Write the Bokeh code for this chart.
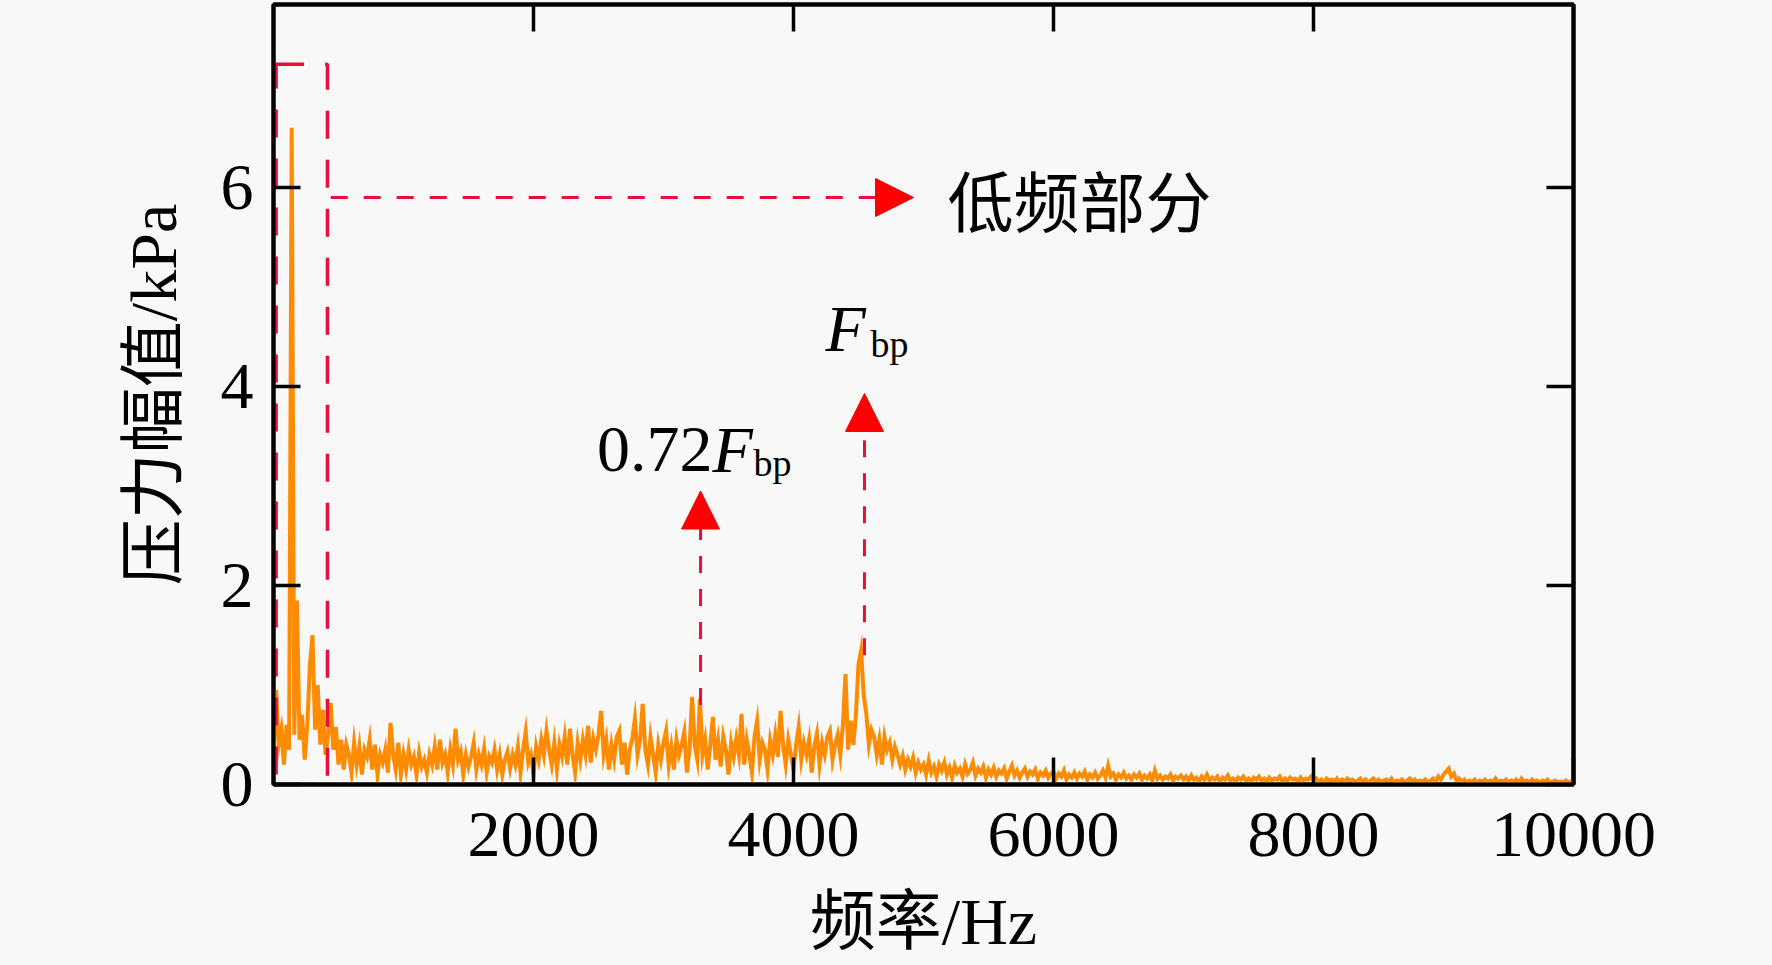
import numpy as np
from bokeh.plotting import figure
from bokeh.models import LinearAxis, FixedTicker, Arrow, NormalHead, Range1d
from bokeh.core.properties import value
from bokeh.embed import file_html
from bokeh.resources import INLINE

# ---------------- data ----------------
freq_step_hz = 20  # spectrum sampled every 20 Hz, 0 ... 10000 Hz

amp_0k = [0.30, 0.95, 0.40, 0.55, 0.20, 0.60, 0.35, 6.60, 0.50, 1.85,
          0.45, 0.70, 0.25, 0.60, 1.20, 1.50, 0.55, 1.00, 0.40, 0.75,
          0.30, 0.50, 0.82, 0.35, 0.58, 0.20, 0.45, 0.15, 0.40, 0.30,
          0.12, 0.42, 0.20, 0.38, 0.10, 0.35, 0.28, 0.45, 0.15, 0.40,
          0.10, 0.30, 0.22, 0.35, 0.12, 0.62, 0.30, 0.15, 0.42, 0.10]
amp_1k = [0.30, 0.15, 0.35, 0.20, 0.28, 0.10, 0.32, 0.18, 0.25, 0.12,
          0.30, 0.20, 0.38, 0.15, 0.45, 0.22, 0.30, 0.12, 0.35, 0.20,
          0.56, 0.25, 0.33, 0.10, 0.30, 0.18, 0.28, 0.42, 0.15, 0.30,
          0.20, 0.36, 0.12, 0.28, 0.22, 0.35, 0.15, 0.30, 0.10, 0.25,
          0.33, 0.16, 0.30, 0.20, 0.38, 0.12, 0.35, 0.53, 0.22, 0.30]
amp_2k = [0.10, 0.38, 0.25, 0.45, 0.30, 0.54, 0.35, 0.20, 0.42, 0.15,
          0.40, 0.28, 0.48, 0.20, 0.56, 0.30, 0.12, 0.42, 0.25, 0.45,
          0.30, 0.59, 0.22, 0.46, 0.35, 0.50, 0.74, 0.30, 0.45, 0.15,
          0.40, 0.25, 0.48, 0.54, 0.20, 0.42, 0.10, 0.35, 0.46, 0.66,
          0.30, 0.45, 0.81, 0.35, 0.20, 0.48, 0.30, 0.12, 0.40, 0.25]
amp_3k = [0.42, 0.54, 0.20, 0.38, 0.15, 0.45, 0.30, 0.40, 0.53, 0.12,
          0.35, 0.88, 0.40, 0.25, 0.86, 0.30, 0.45, 0.15, 0.40, 0.68,
          0.25, 0.44, 0.18, 0.48, 0.35, 0.10, 0.42, 0.28, 0.46, 0.30,
          0.71, 0.20, 0.45, 0.30, 0.12, 0.48, 0.64, 0.25, 0.42, 0.35,
          0.15, 0.44, 0.30, 0.50, 0.28, 0.74, 0.40, 0.20, 0.45, 0.30]
amp_4k = [0.15, 0.40, 0.58, 0.25, 0.42, 0.30, 0.45, 0.12, 0.38, 0.51,
          0.20, 0.42, 0.30, 0.48, 0.54, 0.25, 0.40, 0.50, 0.30, 0.60,
          1.11, 0.35, 0.64, 0.40, 0.70, 1.21, 1.35, 0.90, 0.71, 0.40,
          0.55, 0.48, 0.30, 0.45, 0.20, 0.48, 0.35, 0.42, 0.25, 0.38,
          0.30, 0.20, 0.29, 0.15, 0.25, 0.18, 0.27, 0.12, 0.22, 0.15]
amp_5k = [0.20, 0.10, 0.24, 0.12, 0.18, 0.08, 0.20, 0.14, 0.22, 0.10,
          0.17, 0.07, 0.19, 0.12, 0.16, 0.08, 0.20, 0.11, 0.15, 0.22,
          0.09, 0.16, 0.12, 0.18, 0.07, 0.15, 0.10, 0.17, 0.08, 0.14,
          0.11, 0.16, 0.06, 0.13, 0.19, 0.09, 0.14, 0.07, 0.12, 0.16,
          0.08, 0.13, 0.10, 0.15, 0.06, 0.12, 0.09, 0.14, 0.07, 0.11]
amp_6k = [0.13, 0.06, 0.11, 0.08, 0.14, 0.05, 0.10, 0.07, 0.12, 0.06,
          0.11, 0.08, 0.13, 0.05, 0.10, 0.07, 0.12, 0.06, 0.09, 0.14,
          0.07, 0.19, 0.08, 0.11, 0.05, 0.10, 0.07, 0.12, 0.06, 0.09,
          0.05, 0.10, 0.07, 0.11, 0.05, 0.09, 0.06, 0.10, 0.04, 0.14,
          0.06, 0.09, 0.05, 0.08, 0.06, 0.10, 0.04, 0.08, 0.06, 0.09]
amp_7k = [0.05, 0.08, 0.04, 0.09, 0.05, 0.07, 0.03, 0.08, 0.05, 0.10,
          0.04, 0.07, 0.05, 0.08, 0.03, 0.07, 0.05, 0.09, 0.04, 0.06,
          0.03, 0.07, 0.05, 0.08, 0.04, 0.06, 0.03, 0.07, 0.05, 0.08,
          0.04, 0.06, 0.03, 0.07, 0.04, 0.06, 0.05, 0.08, 0.03, 0.06,
          0.04, 0.07, 0.05, 0.06, 0.03, 0.07, 0.04, 0.06, 0.05, 0.08]
amp_8k = [0.04, 0.06, 0.03, 0.05, 0.02, 0.06, 0.04, 0.05, 0.03, 0.06,
          0.02, 0.05, 0.03, 0.06, 0.04, 0.05, 0.02, 0.04, 0.06, 0.03,
          0.05, 0.02, 0.04, 0.06, 0.03, 0.05, 0.02, 0.04, 0.05, 0.03,
          0.06, 0.02, 0.04, 0.03, 0.05, 0.02, 0.04, 0.06, 0.03, 0.05,
          0.02, 0.04, 0.03, 0.05, 0.02, 0.04, 0.06, 0.03, 0.08, 0.05]
amp_9k = [0.10, 0.13, 0.16, 0.08, 0.11, 0.04, 0.06, 0.03, 0.05, 0.02,
          0.04, 0.03, 0.05, 0.02, 0.04, 0.03, 0.05, 0.02, 0.04, 0.03,
          0.06, 0.02, 0.04, 0.03, 0.05, 0.02, 0.04, 0.03, 0.05, 0.02,
          0.06, 0.03, 0.04, 0.02, 0.05, 0.03, 0.04, 0.02, 0.04, 0.03,
          0.05, 0.02, 0.03, 0.04, 0.02, 0.03, 0.02, 0.04, 0.02, 0.03, 0.02]

amplitude_kpa = amp_0k + amp_1k + amp_2k + amp_3k + amp_4k + amp_5k + amp_6k + amp_7k + amp_8k + amp_9k
frequency_hz = [i * freq_step_hz for i in range(len(amplitude_kpa))]

x_ticks = [2000, 4000, 6000, 8000, 10000]
x_ticks_top = [2000, 4000, 6000, 8000]
y_ticks = [0, 2, 4, 6]

# annotated features
low_band_hz = (20, 415)          # dashed box "低频部分"
low_band_top_kpa = 7.24
f_bp_hz = 4546                    # blade passing frequency
f_072_hz = 3285                   # 0.72 F_bp

x_label = "频率/Hz"
y_label = "压力幅值/kPa"
low_label = "低频部分"

# ---------------- styling ----------------
SERIF = "Liberation Serif"
MIXED = "'Liberation Serif', 'Noto Sans CJK SC'"
CJK = "Noto Sans CJK SC"
BG = "#f8f8f8"
ORANGE = "#ff8c00"
DASH_RED = "#e8103a"
HEAD_RED = "#ff0000"

p = figure(width=1673, height=964,
           x_range=Range1d(0, 10000), y_range=Range1d(0, 7.84),
           output_backend="svg", toolbar_location=None,
           min_border_left=273, min_border_right=100,
           min_border_top=4, min_border_bottom=180,
           background_fill_color=BG, border_fill_color=BG)
p.grid.visible = False
p.outline_line_color = "black"
p.outline_line_width = 4


def style_axis(ax):
    ax.axis_line_width = 4
    ax.axis_line_color = "black"
    ax.major_tick_in = 27
    ax.major_tick_out = 0
    ax.major_tick_line_width = 3.5
    ax.major_tick_line_color = "black"
    ax.minor_tick_line_color = None
    ax.major_label_text_font = SERIF
    ax.major_label_text_font_size = "66px"
    ax.major_label_text_color = "black"
    ax.axis_label_text_font = MIXED
    ax.axis_label_text_font_size = "66px"
    ax.axis_label_text_font_style = "normal"
    ax.axis_label_text_color = "black"


xa = p.xaxis[0]
style_axis(xa)
xa.ticker = FixedTicker(ticks=x_ticks)
xa.axis_label = x_label
xa.major_label_standoff = 28
xa.axis_label_standoff = 26

ya = p.yaxis[0]
style_axis(ya)
ya.ticker = FixedTicker(ticks=y_ticks)
ya.axis_label = y_label
ya.major_label_standoff = 20
ya.axis_label_standoff = 28

top_ax = LinearAxis(ticker=FixedTicker(ticks=x_ticks_top),
                    major_label_overrides={t: "" for t in x_ticks_top})
style_axis(top_ax)
top_ax.major_label_standoff = 0
p.add_layout(top_ax, "above")

right_ax = LinearAxis(ticker=FixedTicker(ticks=y_ticks),
                      major_label_overrides={t: "" for t in y_ticks})
style_axis(right_ax)
right_ax.major_label_standoff = 0
p.add_layout(right_ax, "right")

# ---------------- spectrum ----------------
p.line(frequency_hz, amplitude_kpa, line_color=ORANGE, line_width=4, line_join="miter")

# dashed box around the low-frequency part
p.quad(left=[low_band_hz[0]], right=[low_band_hz[1]], bottom=[0], top=[low_band_top_kpa],
       fill_color=None, line_color=DASH_RED, line_width=3.5, line_dash="28 21")

# arrows
head = dict(size=38, fill_color=HEAD_RED, line_color=HEAD_RED, line_width=1)
p.add_layout(Arrow(x_start=440, y_start=5.9, x_end=4923, y_end=5.9,
                   line_color=DASH_RED, line_width=3, line_dash="17 16",
                   end=NormalHead(**head)))
p.add_layout(Arrow(x_start=f_072_hz, y_start=0.80, x_end=f_072_hz, y_end=2.95,
                   line_color=DASH_RED, line_width=3, line_dash="17 16",
                   end=NormalHead(**head)))
p.add_layout(Arrow(x_start=f_bp_hz, y_start=1.30, x_end=f_bp_hz, y_end=3.93,
                   line_color=DASH_RED, line_width=3, line_dash="17 16",
                   end=NormalHead(**head)))

# texts
p.text(x=[5185], y=[5.895], text=[low_label], text_font=value(CJK), text_font_size="66px",
       text_baseline="middle", text_align="left", text_color="black")

# 0.72 F_bp
p.text(x=[3377], y=[3.366], text=["0.72"], text_font=value(SERIF), text_font_size="66px",
       text_baseline="alphabetic", text_align="right", text_color="black")
p.text(x=[3377], y=[3.366], text=["F"], text_font=value(SERIF), text_font_size="66px",
       text_font_style="italic", text_baseline="alphabetic", text_align="left", text_color="black")
p.text(x=[3692], y=[3.235], text=["bp"], text_font=value(SERIF), text_font_size="38px",
       text_baseline="alphabetic", text_align="left", text_color="black")

# F_bp
p.text(x=[4246], y=[4.582], text=["F"], text_font=value(SERIF), text_font_size="66px",
       text_font_style="italic", text_baseline="alphabetic", text_align="left", text_color="black")
p.text(x=[4592], y=[4.431], text=["bp"], text_font=value(SERIF), text_font_size="38px",
       text_baseline="alphabetic", text_align="left", text_color="black")

html = file_html(p, INLINE)
html = html.replace("<head>", "<head><style>body{background:#f8f8f8;}</style>", 1)
open("out.html", "w").write(html)
